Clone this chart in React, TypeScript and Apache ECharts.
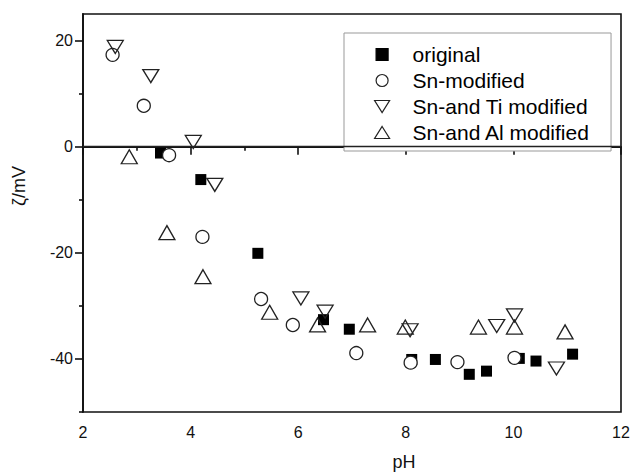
import React, { useEffect, useRef } from "react";
import * as echarts from "echarts";

// pH / zeta potential values
const originalPH = [3.44, 4.19, 5.25, 6.47, 6.95, 8.11, 8.55, 9.18, 9.5, 10.11, 10.42, 11.1];
const originalZeta = [-1.2, -6.2, -20.1, -32.6, -34.4, -40.1, -40.1, -42.9, -42.3, -39.9, -40.4, -39.1];
const snPH = [2.55, 3.13, 3.6, 4.22, 5.31, 5.9, 7.08, 8.09, 8.96, 10.02];
const snZeta = [17.3, 7.7, -1.6, -17.0, -28.7, -33.6, -38.9, -40.7, -40.6, -39.8];
const snTiPH = [2.6, 3.26, 4.05, 4.45, 6.05, 6.5, 8.08, 9.69, 10.02, 10.8];
const snTiZeta = [18.8, 13.3, 0.9, -7.2, -28.6, -31.1, -34.6, -33.8, -31.8, -41.8];
const snAlPH = [2.86, 3.56, 4.23, 5.47, 6.36, 7.29, 7.99, 9.35, 10.02, 10.96];
const snAlZeta = [-1.9, -16.2, -24.5, -31.2, -33.6, -33.6, -34.0, -34.0, -34.0, -34.9];

const seriesNames = ["original", "Sn-modified", "Sn-and Ti modified", "Sn-and Al modified"];
const yMajorTicks = [-40, -20, 0, 20];
const yMinorTicks = [-50, -30, -10, 10];

const FONT = "Liberation Sans, Arial, sans-serif";
const AX = "#111";

const pairs = (xs: number[], ys: number[]) => xs.map((x, i) => [x, ys[i]]);

export default function App() {
  const ref = useRef<HTMLDivElement>(null);
  useEffect(() => {
    if (!ref.current) return;
    const chart = echarts.init(ref.current, null, { renderer: "svg" });
    const hollow = { color: "#fff", borderColor: "#222", borderWidth: 1.3 };
    const hollowT = { color: "transparent", borderColor: "#222", borderWidth: 1.3 };
    chart.setOption({
      animation: false,
      backgroundColor: "#fff",
      textStyle: { fontFamily: FONT },
      grid: {
        left: 83,
        top: 14,
        right: 9,
        bottom: 60,
        show: true,
        borderColor: AX,
        borderWidth: 1.6,
        backgroundColor: "transparent",
        outerBoundsMode: "none",
      },
      legend: {
        orient: "vertical",
        left: 344,
        top: 33,
        padding: [11, 21, 8, 30],
        itemWidth: 15,
        itemHeight: 12,
        itemGap: 5,
        symbolRotate: 0,
        backgroundColor: "#fff",
        borderColor: "#999",
        borderWidth: 1,
        selectedMode: false,
        itemStyle: { borderWidth: 1.2 },
        textStyle: {
          fontFamily: FONT,
          fontSize: 21,
          lineHeight: 21,
          color: "#000",
          padding: [0, 0, 0, 18],
        },
        data: [
          { name: seriesNames[0], icon: "path://M0,0H12V12H0Z" },
          { name: seriesNames[1], icon: "path://M0,6A6,6,0,1,1,12,6A6,6,0,1,1,0,6Z" },
          { name: seriesNames[2], icon: "path://M0,0H15L7.5,12Z" },
          { name: seriesNames[3], icon: "path://M7.5,0L15,12H0Z" },
        ],
      },
      xAxis: {
        type: "value",
        min: 2,
        max: 12,
        interval: 2,
        name: "pH",
        nameLocation: "middle",
        nameGap: 41,
        nameTextStyle: { fontFamily: FONT, fontSize: 18, color: AX, padding: [0, 0, 0, 104] },
        axisLine: { show: true, lineStyle: { color: AX, width: 1.8 } },
        axisTick: { show: true, inside: false, length: 8, lineStyle: { color: AX, width: 1.6 } },
        minorTick: { show: true, splitNumber: 2, length: 4, lineStyle: { color: AX, width: 1.6 } },
        splitLine: { show: false },
        axisLabel: { fontFamily: FONT, fontSize: 16, color: AX, margin: 12 },
      },
      yAxis: [
        {
          type: "value",
          min: -50,
          max: 25,
          interval: 10,
          name: "ζ/mV",
          nameLocation: "middle",
          nameRotate: 90,
          nameGap: 55,
          nameTextStyle: { fontFamily: FONT, fontSize: 18, color: AX, padding: [0, 0, 0, 54] },
          axisLine: { show: true, lineStyle: { color: AX, width: 1.8 } },
          axisTick: {
            show: true,
            inside: false,
            length: 8,
            customValues: yMajorTicks,
            lineStyle: { color: AX, width: 1.6 },
          },
          axisLabel: {
            fontFamily: FONT,
            fontSize: 16,
            color: AX,
            margin: 10,
            customValues: yMajorTicks,
          },
          splitLine: { show: false },
        },
        {
          type: "value",
          min: -50,
          max: 25,
          interval: 10,
          position: "left",
          axisLine: { show: false },
          axisTick: {
            show: true,
            inside: false,
            length: 4,
            customValues: yMinorTicks,
            lineStyle: { color: AX, width: 1.6 },
          },
          axisLabel: { show: false },
          splitLine: { show: false },
        },
      ],
      series: [
        {
          name: seriesNames[0],
          type: "scatter",
          symbol: "rect",
          symbolSize: 11,
          itemStyle: { color: "#000", borderColor: "#000", borderWidth: 0, opacity: 1 },
          data: pairs(originalPH, originalZeta),
          markLine: {
            silent: true,
            symbol: ["none", "none"],
            label: { show: false },
            lineStyle: { color: "#222", width: 1.4, type: "solid" },
            data: [{ yAxis: 0 }],
          },
        },
        {
          name: seriesNames[1],
          type: "scatter",
          symbol: "circle",
          symbolSize: 13,
          itemStyle: { ...hollow, opacity: 1 },
          data: pairs(snPH, snZeta),
        },
        {
          name: seriesNames[2],
          type: "scatter",
          symbol: "triangle",
          symbolRotate: 180,
          symbolSize: [16, 13],
          itemStyle: { ...hollowT, opacity: 1 },
          data: pairs(snTiPH, snTiZeta),
        },
        {
          name: seriesNames[3],
          type: "scatter",
          symbol: "triangle",
          symbolSize: [16, 14],
          itemStyle: { ...hollowT, opacity: 1 },
          data: pairs(snAlPH, snAlZeta),
        },
      ],
    });
    return () => chart.dispose();
  }, []);
  return (
    <div
      ref={ref}
      style={{ position: "fixed", left: 0, top: 0, width: 630, height: 472, background: "#fff" }}
    />
  );
}
